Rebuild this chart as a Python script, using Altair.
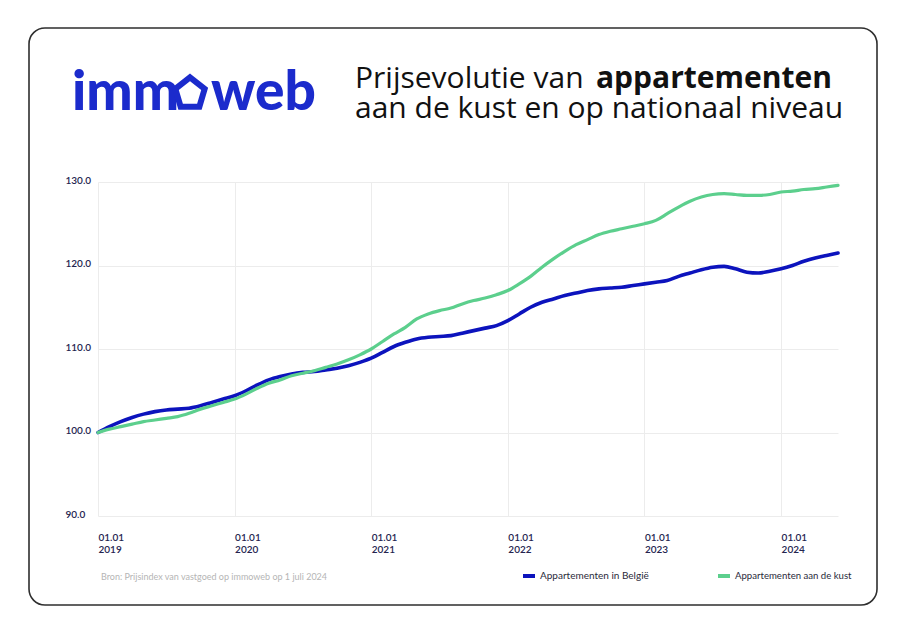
import altair as alt
import pandas as pd

# ---------------- data ----------------
months = [f"{y}-{m:02d}" for y in range(2019, 2025) for m in range(1, 13)][:66]

belgie = [
    100.0, 100.7, 101.3, 101.8, 102.2, 102.5, 102.7, 102.8, 102.9, 103.2, 103.6, 104.0,
    104.4, 105.0, 105.7, 106.3, 106.7, 107.0, 107.2, 107.3, 107.5, 107.7, 108.0, 108.4,
    108.9, 109.6, 110.3, 110.8, 111.2, 111.4, 111.5, 111.6, 111.9, 112.2, 112.5, 112.8,
    113.4, 114.2, 115.0, 115.6, 116.0, 116.4, 116.7, 117.0, 117.2, 117.3, 117.4, 117.6,
    117.8, 118.0, 118.2, 118.7, 119.1, 119.5, 119.8, 119.9, 119.6, 119.2, 119.1, 119.3,
    119.6, 120.0, 120.5, 120.9, 121.2, 121.5,
]
kust = [
    100.0, 100.4, 100.7, 101.0, 101.3, 101.5, 101.7, 101.9, 102.3, 102.8, 103.2, 103.6,
    104.0, 104.6, 105.3, 105.9, 106.3, 106.8, 107.1, 107.4, 107.8, 108.2, 108.7, 109.3,
    110.0, 110.9, 111.8, 112.6, 113.6, 114.2, 114.6, 114.9, 115.4, 115.8, 116.1, 116.5,
    117.0, 117.8, 118.7, 119.8, 120.8, 121.7, 122.5, 123.1, 123.7, 124.1, 124.4, 124.7,
    125.0, 125.4, 126.2, 127.0, 127.7, 128.2, 128.5, 128.6, 128.5, 128.4, 128.4, 128.5,
    128.8, 128.9, 129.1, 129.2, 129.4, 129.6,
]
series_names = ["Appartementen in België", "Appartementen aan de kust"]
series_colors = ["#0c13bd", "#5ccf8d"]
year_ticks = [0, 12, 24, 36, 48, 60]
y_ticks = [90, 100, 110, 120, 130]

title_regular = "Prijsevolutie van"
title_bold = "appartementen"
title_line2 = "aan de kust en op nationaal niveau"
source_text = "Bron: Prijsindex van vastgoed op immoweb op 1 juli 2024"

df = pd.DataFrame({
    "idx": list(range(len(months))) * 2,
    "month": months * 2,
    "value": belgie + kust,
    "serie": [series_names[0]] * len(months) + [series_names[1]] * len(months),
})
one = pd.DataFrame({"a": [0]})

LOGO = "#1b2bcc"
NAVY = "#24244f"
FONT = "Lato"
TFONT = "Open Sans"

# ---------------- card ----------------
card = alt.Chart(one).mark_rect(
    filled=False, stroke="#2e2e2e", strokeWidth=1.6, cornerRadius=16
).encode(x=alt.value(-69), x2=alt.value(779), y=alt.value(-154), y2=alt.value(423))

# ---------------- lines ----------------
x_enc = alt.X(
    "idx:Q",
    scale=alt.Scale(domain=[0, 65], nice=False),
    axis=alt.Axis(
        values=year_ticks,
        labelExpr="['01.01', '' + (2019 + datum.value / 12)]",
        title=None, grid=True, gridColor="#ececec", gridWidth=1,
        domain=False, ticks=False, tickSize=0,
        labelAlign="left", labelBaseline="top", labelPadding=16,
        labelFont=FONT, labelFontSize=10, labelFontWeight=600,
        labelColor=NAVY, labelLineHeight=12,
    ),
)
y_enc = alt.Y(
    "value:Q",
    scale=alt.Scale(domain=[90, 130], nice=False, zero=False),
    axis=alt.Axis(
        values=y_ticks, format=".1f", title=None,
        grid=True, gridColor="#ececec", gridWidth=1,
        domain=False, ticks=False, tickSize=0,
        labelAlign="left", labelBaseline="middle", labelPadding=33, labelOffset=-2,
        labelFont=FONT, labelFontSize=10, labelFontWeight=600, labelColor=NAVY,
    ),
)
color_enc = alt.Color(
    "serie:N",
    scale=alt.Scale(domain=series_names, range=series_colors),
    legend=None,
)

base = alt.Chart(df)
line_be = base.transform_filter(
    alt.datum.serie == series_names[0]
).mark_line(interpolate="monotone", strokeWidth=3.6, strokeCap="round").encode(
    x=x_enc, y=y_enc, color=color_enc
)
line_kust = base.transform_filter(
    alt.datum.serie == series_names[1]
).mark_line(interpolate="monotone", strokeWidth=3.2, strokeCap="round").encode(
    x="idx:Q", y="value:Q", color=color_enc
)

# ---------------- header ----------------
def txt(text, x, y, size, weight="normal", color="#111111", align="left", baseline="alphabetic", font=FONT):
    return alt.Chart(one).mark_text(
        text=text, font=font, fontSize=size, fontWeight=weight, color=color,
        align=align, baseline=baseline,
    ).encode(x=alt.value(x), y=alt.value(y))

logo_imm = txt("imm", -26, -72, 55, weight=900, color=LOGO)
logo_web = txt("web", 113, -72, 55, weight=900, color=LOGO)
house = alt.Chart(one).mark_point(
    shape="M0,-1 L1,-0.22 L0.64,1 L-0.64,1 L-1,-0.22 Z",
    filled=False, fill="transparent", opacity=1, strokeWidth=6, color=LOGO,
    size=860, strokeJoin="miter",
).encode(x=alt.value(92), y=alt.value(-90))

t1 = txt(title_regular, 257, -94, 30, font=TFONT)
t1b = txt(title_bold, 498, -94, 30, weight="bold", font=TFONT)
t2 = txt(title_line2, 257, -64, 30, font=TFONT)

# ---------------- footer ----------------
src = txt(source_text, 3, 398, 9, color="#b5b5b5")
leg_be = alt.Chart(one).mark_rule(strokeWidth=4, color=series_colors[0]).encode(
    x=alt.value(425), x2=alt.value(437), y=alt.value(394))
leg_be_t = txt(series_names[0], 442, 394, 10, color="#2a2a3a", baseline="middle")
leg_k = alt.Chart(one).mark_rule(strokeWidth=4, color=series_colors[1]).encode(
    x=alt.value(620), x2=alt.value(632), y=alt.value(394))
leg_k_t = txt(series_names[1], 637, 394, 9.6, color="#2a2a3a", baseline="middle")

chart = alt.layer(
    card, line_be, line_kust, logo_imm, logo_web, house, t1, t1b, t2,
    src, leg_be, leg_be_t, leg_k, leg_k_t,
).properties(
    width=740, height=334,
    padding={"left": 98, "top": 182, "right": 62, "bottom": 127},
    autosize="none",
    background="white",
).configure_view(stroke=None)

chart.save("out.html", embed_options={"renderer": "svg", "actions": False})
